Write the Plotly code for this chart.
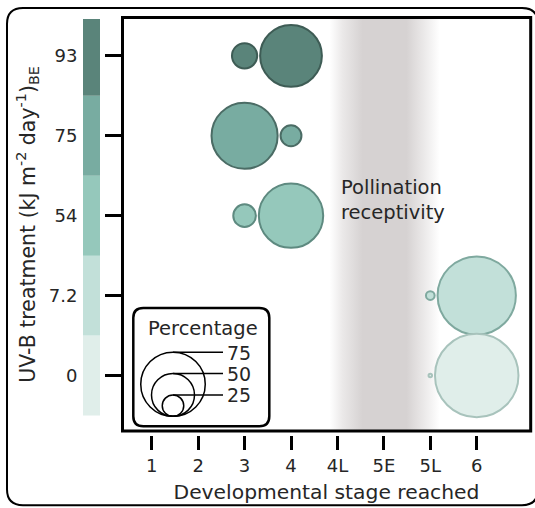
import plotly.graph_objects as go

# ---------------- data ----------------
stages = ["1", "2", "3", "4", "4L", "5E", "5L", "6"]
treatments = ["0", "7.2", "54", "75", "93"]          # bottom -> top

uvb_93_stage = ["3", "4"]
uvb_93_pct = [29, 71]
uvb_75_stage = ["3", "4"]
uvb_75_pct = [76, 24]
uvb_54_stage = ["3", "4"]
uvb_54_pct = [26, 74]
uvb_7_2_stage = ["5L", "6"]
uvb_7_2_pct = [10, 90]
uvb_0_stage = ["5L", "6"]
uvb_0_pct = [4, 96]

legend_pct = [75, 50, 25]
receptivity_band = ("4L", "5L")     # stages spanned by the pollination-receptivity window

# ---------------- style ----------------
fill_colors = {"0": "#e0eeea", "7.2": "#c2e0d9", "54": "#95c8bb", "75": "#78aca1", "93": "#5a847a"}
edge_colors = {"0": "#a8c3bc", "7.2": "#7fa99f", "54": "#5e8a80", "75": "#4b6c65", "93": "#3e5c55"}
FONT = "DejaVu Sans"
TXT = "#262626"

W, H = 535, 508
ML, MR, MT, MB = 124, 6, 19, 76
PW, PH = W - ML - MR, H - MT - MB


def px(x):
    return (x - ML) / PW


def py(y):
    return (H - MB - y) / PH


def rounded_rect(x0, y0, x1, y1, r):
    pts = [
        ("M", (x0 + r, y0)), ("L", (x1 - r, y0)), ("Q", (x1, y0), (x1, y0 + r)),
        ("L", (x1, y1 - r)), ("Q", (x1, y1), (x1 - r, y1)), ("L", (x0 + r, y1)),
        ("Q", (x0, y1), (x0, y1 - r)), ("L", (x0, y0 + r)), ("Q", (x0, y0), (x0 + r, y0)),
    ]
    s = ""
    for seg in pts:
        s += seg[0] + " " + " ".join(f"{px(p[0]):.5f},{py(p[1]):.5f}" for p in seg[1:]) + " "
    return s + "Z"


si = {s: i for i, s in enumerate(stages)}
ti = {t: i for i, t in enumerate(treatments)}

fig = go.Figure()

# pollination receptivity band (soft-edged grey)
b0 = si[receptivity_band[0]] - 0.17
b1 = si[receptivity_band[1]] + 0.2
fig.add_trace(go.Scatter(
    x=[b0, b1, b1, b0, b0], y=[-2, -2, 6, 6, -2], mode="none", fill="toself",
    fillgradient=dict(type="horizontal", colorscale=[
        [0.0, "rgba(214,210,210,0)"], [0.12, "rgba(214,210,210,0.5)"],
        [0.3, "rgba(214,210,210,1)"], [0.7, "rgba(214,210,210,1)"],
        [0.9, "rgba(214,210,210,0.35)"], [1.0, "rgba(214,210,210,0)"]]),
    hoverinfo="skip", showlegend=False))

series = [("93", uvb_93_stage, uvb_93_pct), ("75", uvb_75_stage, uvb_75_pct),
          ("54", uvb_54_stage, uvb_54_pct), ("7.2", uvb_7_2_stage, uvb_7_2_pct),
          ("0", uvb_0_stage, uvb_0_pct)]
for t, st, pct in series:
    fig.add_trace(go.Scatter(
        x=[si[s] for s in st], y=[ti[t]] * len(st), mode="markers",
        marker=dict(size=pct, sizemode="diameter", sizeref=1 / 0.87,
                    color=fill_colors[t], line=dict(color=edge_colors[t], width=2), opacity=1),
        name=t, showlegend=False))

shapes = []
# colour key beside the y axis
for t in treatments:
    shapes.append(dict(type="rect", xref="paper", yref="y", x0=px(83), x1=px(100),
                       y0=ti[t] - 0.5, y1=ti[t] + 0.5, fillcolor=fill_colors[t],
                       line=dict(width=0), layer="below"))
# plot frame
shapes.append(dict(type="rect", xref="paper", yref="paper", x0=px(122.5), x1=px(530.7),
                   y0=py(433), y1=py(17.5), line=dict(color="black", width=3)))
# outer rounded frame
shapes.append(dict(type="path", xref="paper", yref="paper", path=rounded_rect(7, 8, 538, 507.5, 16),
                   line=dict(color="black", width=2)))
# size legend box
shapes.append(dict(type="path", xref="paper", yref="paper", path=rounded_rect(133.3, 309.3, 269.3, 428.3, 10),
                   line=dict(color="black", width=2.5)))

annotations = []
cx, base = 173, 418.3
for p in legend_pct:
    d = 0.86 * p
    shapes.append(dict(type="circle", xref="paper", yref="paper", x0=px(cx - d / 2), x1=px(cx + d / 2),
                       y0=py(base), y1=py(base - d), line=dict(color="black", width=1.5)))
    shapes.append(dict(type="line", xref="paper", yref="paper", x0=px(cx), x1=px(223),
                       y0=py(base - d), y1=py(base - d), line=dict(color="black", width=1.5)))
    annotations.append(dict(xref="paper", yref="paper", x=px(225), y=py(base - d + 0.5), text=str(p),
                            showarrow=False, xanchor="left", yanchor="middle",
                            font=dict(size=19, color=TXT)))
annotations.append(dict(xref="paper", yref="paper", x=px(203), y=py(330.5), text="Percentage",
                        showarrow=False, xanchor="center", yanchor="middle",
                        font=dict(size=19.5, color=TXT)))
annotations.append(dict(xref="x", yref="paper", x=si["4L"] + 0.04, y=py(201),
                        text="Pollination<br>receptivity", showarrow=False, align="left",
                        xanchor="left", yanchor="middle", font=dict(size=19.5, color=TXT)))

fig.update_layout(
    width=W, height=H, margin=dict(l=ML, r=MR, t=MT, b=MB),
    paper_bgcolor="white", plot_bgcolor="white",
    font=dict(family=FONT, color=TXT),
    shapes=shapes, annotations=annotations, showlegend=False,
    xaxis=dict(range=[-0.597, 8.126], tickvals=list(range(len(stages))), ticktext=stages,
               showgrid=False, zeroline=False, showline=True, linecolor="white", linewidth=6,
               ticks="outside", ticklen=14, tickwidth=3, tickcolor="black",
               tickfont=dict(size=18, color=TXT),
               title=dict(text="Developmental stage reached", font=dict(size=20.3, color=TXT), standoff=12)),
    yaxis=dict(range=[-0.682, 4.461], tickvals=list(range(len(treatments))), ticktext=treatments,
               showgrid=False, zeroline=False, showline=True, linecolor="black", linewidth=3,
               ticks="outside", ticklen=16, tickwidth=3, tickcolor="black",
               tickfont=dict(size=18, color=TXT), ticklabelstandoff=24,
               title=dict(text="UV-B treatment (kJ m<sup>-2</sup> day<sup>-1</sup>)<sub>BE</sub>",
                          font=dict(size=20.5, color=TXT), standoff=8)),
)

fig.write_html("out.html", config={"displayModeBar": False},
               post_script="document.body.style.margin='0';")
